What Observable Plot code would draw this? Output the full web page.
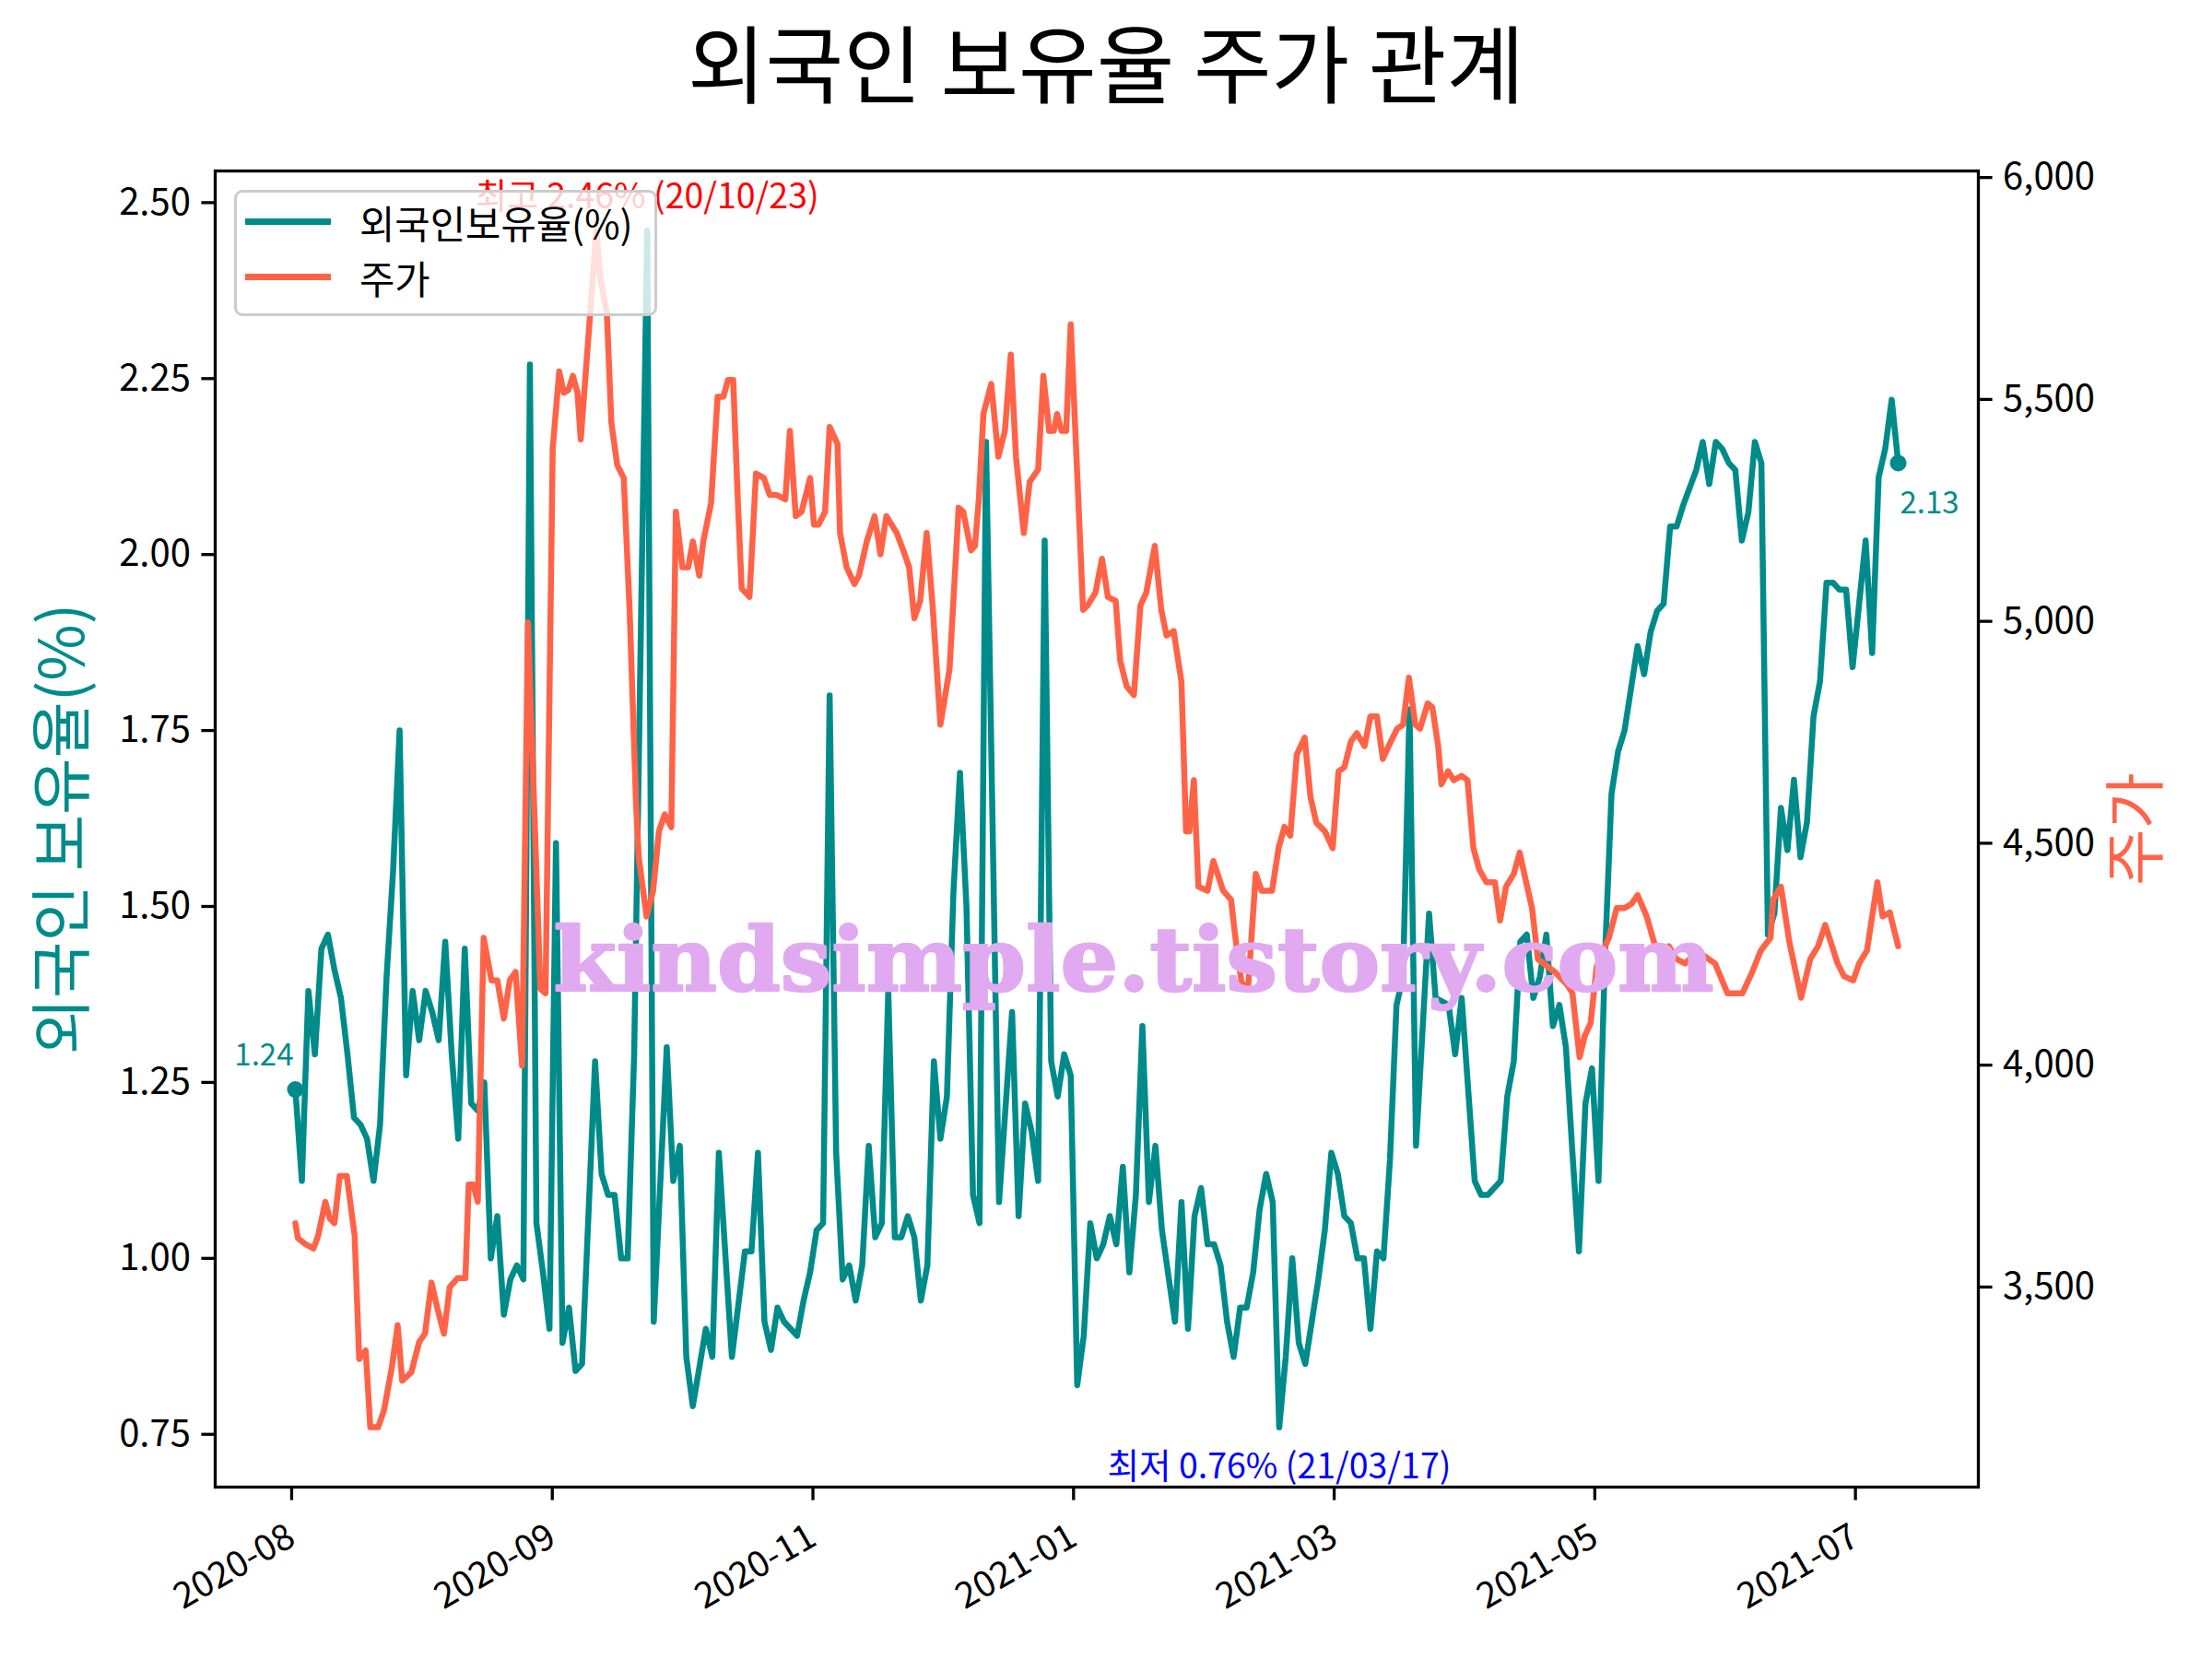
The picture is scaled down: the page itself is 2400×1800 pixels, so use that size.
<!DOCTYPE html>
<html>
<head>
<meta charset="utf-8">
<script src="https://cdn.jsdelivr.net/npm/d3@7"></script>
<script src="https://cdn.jsdelivr.net/npm/@observablehq/plot@0.6"></script>
<style>
  body { margin: 0; background: #fff; font-family: "Noto Sans CJK KR", sans-serif; }
  #wrap { position: relative; width: 2400px; height: 1800px; background: #fff; }
  #title { height: 130px; box-sizing: border-box; padding-top: 19px; text-align: center; font-size: 92px; line-height: 1; color: #000; }
  #legend { position: absolute; left: 254px; top: 206px; width: 459px; height: 137px; box-sizing: border-box;
            border: 3.3px solid #cccccc; border-radius: 9px; background: rgba(255,255,255,0.8); }
  .lg-line { position: absolute; left: 9px; width: 93px; height: 7px; }
  .lg-text { position: absolute; left: 133px; font-size: 41.7px; line-height: 50px; height: 50px; color: #000; white-space: nowrap; }
</style>
</head>
<body>
<div id="wrap">
  <div id="title"></div>
  <div id="chart"></div>
  <div id="legend"></div>
</div>
<script>
// ---------- data ----------
const titleText = "외국인 보유율 주가 관계";
const seriesNames = ["외국인보유율(%)", "주가"];
const seriesColors = ["#008B8B", "#FF6347"];
const yLabel = "외국인 보유율(%)";
const priceLabel = "주가";
const watermark = "kindsimple.tistory.com";
const maxDateLabel = "20/10/23";
const minDateLabel = "21/03/17";

// x tick positions (trading-day index) and their labels
const tickIdx = [0, 40, 80, 120, 160, 200, 240];
const tickLabels = ["2020-08", "2020-09", "2020-11", "2021-01", "2021-03", "2021-05", "2021-07"];
const leftTicks = [0.75, 1.00, 1.25, 1.50, 1.75, 2.00, 2.25, 2.50];
const rightTicks = [3500, 4000, 4500, 5000, 5500, 6000];

// foreign holding ratio (%) by trading-day index
const holdIdx = [0,1,2,3,4,5,6,7,8,9,10,11,12,13,14,15,16,17,18,19,20,21,22,23,24,25,26,27,28,29,30,31,32,33,34,35,36,37,38,39,40,41,42,43,44,46,47,48,49,50,51,52,54,55,57,58,59,60,61,63,64,65,67,69,70,71,72,73,74,75,77,78,79,80,81,82,83,84,85,86,87,88,89,90,91,92,93,94,95,96,97,98,99,100,101,102,103,104,105,106,108,110,111,112,113,114,115,116,117,118,119,120,121,122,123,124,125,126,127,128,129,130,131,132,133,135,136,137,138,139,140,141,142,143,144,145,146,147,148,149,150,151,152,153,154,155,157,158,159,160,161,162,163,164,165,166,167,168,169,170,171,172,174,175,177,178,179,181,182,183,185,186,187,188,189,190,191,192,193,194,195,196,197,198,199,200,201,202,203,204,205,206,207,208,209,210,211,212,213,215,216,217,218,219,220,221,222,223,224,225,226,227,228,229,230,231,232,233,234,235,236,237,238,239,241,242,243,244,245,246];
const holdVal = [1.24,1.11,1.38,1.29,1.44,1.46,1.41,1.37,1.29,1.20,1.19,1.17,1.11,1.19,1.40,1.55,1.75,1.26,1.38,1.31,1.38,1.35,1.31,1.45,1.29,1.17,1.44,1.22,1.21,1.25,1.00,1.06,0.92,0.97,0.99,0.97,2.27,1.05,0.98,0.90,1.59,0.88,0.93,0.84,0.85,1.28,1.12,1.09,1.09,1.00,1.00,1.29,2.46,0.91,1.30,1.11,1.16,0.86,0.79,0.90,0.86,1.15,0.86,1.01,1.01,1.15,0.91,0.87,0.93,0.91,0.89,0.94,0.98,1.04,1.05,1.80,1.15,0.97,0.99,0.94,0.99,1.16,1.03,1.05,1.38,1.03,1.03,1.06,1.03,0.94,0.99,1.28,1.17,1.23,1.52,1.69,1.50,1.09,1.05,2.16,1.08,1.35,1.06,1.22,1.18,1.11,2.02,1.28,1.23,1.29,1.26,0.82,0.89,1.05,1.00,1.02,1.06,1.02,1.13,0.98,1.09,1.33,1.08,1.16,1.04,0.91,1.08,0.90,1.06,1.10,1.02,1.02,0.99,0.91,0.86,0.93,0.93,0.98,1.07,1.12,1.08,0.76,0.86,1.00,0.88,0.85,0.97,1.04,1.15,1.12,1.06,1.05,1.00,1.00,0.90,1.01,1.00,1.14,1.36,1.40,1.78,1.16,1.49,1.37,1.36,1.29,1.37,1.11,1.09,1.09,1.11,1.23,1.28,1.45,1.46,1.37,1.40,1.46,1.33,1.36,1.30,1.15,1.01,1.22,1.27,1.11,1.43,1.66,1.72,1.75,1.81,1.87,1.83,1.89,1.92,1.93,2.04,2.04,2.07,2.12,2.16,2.10,2.16,2.15,2.13,2.12,2.02,2.06,2.16,2.13,1.46,1.49,1.64,1.58,1.68,1.57,1.62,1.77,1.82,1.96,1.96,1.95,1.95,1.84,2.02,1.86,2.11,2.15,2.22,2.13];

// share price (KRW) by trading-day index
const priceIdx = [0.0,0.4,1.6,2.8,3.5,4.6,5.3,6.0,6.8,7.9,9.1,9.8,10.8,11.5,12.7,13.6,14.8,15.7,16.4,17.8,19.0,19.9,20.9,21.8,22.8,23.7,24.9,26.1,26.6,27.3,28.0,28.9,30.1,31.0,32.0,32.9,33.8,34.8,35.7,37.6,38.4,39.5,40.5,41.2,41.9,42.6,43.3,43.8,46.2,46.8,47.8,48.5,49.4,50.4,51.3,52.3,52.7,53.9,54.9,55.8,56.7,57.7,58.4,59.4,60.3,61.0,62.0,62.6,63.8,64.8,65.7,66.4,67.2,67.9,68.5,69.7,70.7,71.9,72.8,73.8,75.2,75.9,76.8,77.7,79.0,79.6,80.3,81.3,82.0,83.2,83.6,84.6,85.8,86.5,87.7,88.9,89.8,90.7,92.3,93.3,94.2,95.0,95.9,96.9,97.8,99.0,100.4,101.8,102.5,103.7,104.3,104.9,105.6,106.8,107.9,108.9,109.8,110.6,111.8,112.7,114.0,114.8,115.7,116.4,116.9,117.6,118.3,119.0,120.9,121.6,122.8,123.8,124.7,125.9,126.6,127.6,128.7,129.7,130.6,131.9,132.9,133.7,134.8,136.0,136.7,137.2,137.9,138.6,140.0,140.9,142.4,143.6,144.2,145.2,146.2,147.4,148.3,149.9,150.9,151.8,152.7,153.7,154.9,155.8,156.7,158.0,159.2,160.1,161.0,162.0,162.9,164.1,165.0,166.0,166.9,167.8,169.1,170.0,170.9,171.9,172.6,173.8,174.5,175.4,175.9,176.9,177.8,179.0,179.9,180.8,181.7,182.8,184.1,184.9,185.8,187.0,187.9,188.9,189.8,190.7,193.3,195.2,196.0,197.1,197.9,198.8,199.7,200.7,201.6,202.8,204.0,205.1,206.0,207.4,208.7,209.9,210.8,212.0,213.3,214.6,216.0,217.9,219.8,220.9,222.1,223.6,224.9,226.4,226.8,228.0,229.3,231.1,232.5,233.7,234.8,236.7,237.7,239.1,240.0,241.2,242.8,243.6,244.7,246.0];
const priceVal = [3644,3610,3596,3587,3616,3692,3654,3644,3750,3750,3616,3338,3357,3184,3184,3222,3318,3414,3289,3308,3376,3395,3510,3452,3395,3500,3520,3520,3731,3731,3692,4287,4191,4191,4105,4191,4210,3999,4997,4172,4162,5390,5563,5515,5521,5553,5515,5410,5880,5774,5697,5448,5352,5323,5026,4584,4469,4335,4392,4527,4565,4536,5247,5122,5122,5180,5103,5180,5266,5506,5506,5544,5544,5275,5074,5055,5333,5323,5285,5285,5275,5429,5237,5247,5323,5218,5218,5247,5438,5400,5199,5122,5084,5103,5180,5237,5151,5237,5199,5160,5122,5007,5046,5199,5036,4767,4892,5256,5247,5160,5170,5275,5467,5535,5371,5429,5601,5371,5199,5314,5342,5553,5429,5429,5467,5429,5429,5669,5026,5036,5065,5141,5055,5046,4911,4853,4834,5036,5065,5170,5026,4968,4978,4863,4527,4527,4642,4402,4393,4460,4393,4373,4296,4187,4170,4431,4393,4393,4489,4537,4517,4700,4738,4604,4546,4527,4489,4662,4671,4729,4748,4719,4786,4786,4690,4719,4758,4767,4873,4767,4758,4815,4806,4719,4633,4662,4642,4652,4642,4489,4441,4412,4412,4326,4402,4431,4479,4412,4354,4239,4210,4181,4162,4018,4066,4095,4220,4258,4287,4354,4354,4364,4383,4335,4268,4239,4268,4239,4229,4248,4248,4229,4162,4162,4162,4210,4258,4287,4373,4402,4277,4152,4239,4268,4316,4229,4200,4191,4229,4258,4412,4335,4344,4268];

// ---------- build ----------
const FONT = '"Noto Sans CJK KR", sans-serif';
const TEAL = seriesColors[0], TOMATO = seriesColors[1];
const hold = holdIdx.map((i, k) => ({i, v: holdVal[k]}));
const price = priceIdx.map((i, k) => ({i, v: priceVal[k]}));
const pad = (lo, hi) => [lo - (hi - lo) * 0.05, hi + (hi - lo) * 0.05];
const xDom = pad(d3.min(holdIdx), d3.max(holdIdx));
const yDom = pad(d3.min(holdVal), d3.max(holdVal));
const pDom = pad(d3.min(priceVal), d3.max(priceVal));
const p2y = d3.scaleLinear(pDom, yDom);
const first = hold[0], last = hold[hold.length - 1];
const hMax = hold[d3.maxIndex(holdVal)], hMin = hold[d3.minIndex(holdVal)];

document.getElementById("title").textContent = titleText;

const chart = Plot.plot({
  width: 2400, height: 1670,
  marginTop: 55, marginBottom: 187, marginLeft: 233, marginRight: 254,
  style: {fontFamily: FONT, fontSize: "40px", background: "white", overflow: "visible"},
  x: {domain: xDom},
  y: {domain: yDom},
  marks: [
    Plot.line(hold, {x: "i", y: "v", stroke: TEAL, strokeWidth: 6.5}),
    Plot.dot([first, last], {x: "i", y: "v", r: 9, fill: TEAL, stroke: null}),
    Plot.text([first], {x: "i", y: "v", text: d => d.v.toFixed(2), fill: TEAL, fontSize: 33, textAnchor: "end", dx: -2, dy: -37}),
    Plot.text([last], {x: "i", y: "v", text: d => d.v.toFixed(2), fill: TEAL, fontSize: 33, textAnchor: "start", dx: 2, dy: 44}),
    Plot.text([hMax], {x: "i", y: "v", text: d => `최고 ${d.v.toFixed(2)}% (${maxDateLabel})`, fill: "red", fontSize: 37.5, dy: -36}),
    Plot.text([hMin], {x: "i", y: "v", text: d => `최저 ${d.v.toFixed(2)}% (${minDateLabel})`, fill: "blue", fontSize: 37.5, dy: 43}),
    Plot.line(price, {x: "i", y: d => p2y(d.v), stroke: TOMATO, strokeWidth: 6.5}),
    Plot.text([watermark], {frameAnchor: "middle", textAnchor: "middle", dx: 40, dy: 145, fontSize: 96, fontWeight: "bold", fontFamily: "DejaVu Serif", fill: "#E1AAF0", stroke: "#E1AAF0", strokeWidth: 2.5}),
    Plot.frame({stroke: "black", strokeWidth: 3.3}),
    Plot.axisY(leftTicks, {anchor: "left", tickSize: 14.6, tickPadding: 12, strokeWidth: 3.3, fontSize: 40, tickFormat: d3.format(".2f"), label: null}),
    Plot.axisY(rightTicks.map(p2y), {anchor: "right", tickSize: 14.6, tickPadding: 12, strokeWidth: 3.3, fontSize: 40, tickFormat: d => d3.format(",")(Math.round(p2y.invert(d))), label: null}),
    Plot.axisX(tickIdx, {anchor: "bottom", tickSize: 14.6, tickPadding: 36, dx: -4, strokeWidth: 3.3, fontSize: 39, tickRotate: -30, tickFormat: d => tickLabels[tickIdx.indexOf(d)], label: null}),
    Plot.text([yLabel], {frameAnchor: "left", textAnchor: "middle", dx: -164, rotate: -90, fill: TEAL, fontSize: 66.7}),
    Plot.text([priceLabel], {frameAnchor: "right", textAnchor: "middle", dx: 173, rotate: -90, fill: TOMATO, fontSize: 66.7})
  ]
});
document.getElementById("chart").appendChild(chart);

// stretch watermark to its width in the reference
d3.select(chart).selectAll("text").filter(function() { return this.textContent === watermark; })
  .attr("textLength", 1259).attr("lengthAdjust", "spacingAndGlyphs");

// legend (drawn above the plot with a translucent background)
const legend = document.getElementById("legend");
seriesNames.forEach((name, k) => {
  const line = document.createElement("div");
  line.className = "lg-line";
  line.style.top = (31.5 + k * 60 - 3.3) + "px";
  line.style.background = seriesColors[k];
  legend.appendChild(line);
  const t = document.createElement("div");
  t.className = "lg-text";
  t.style.top = (10 + k * 60 - 3.3) + "px";
  t.textContent = name;
  legend.appendChild(t);
});
</script>
</body>
</html>
